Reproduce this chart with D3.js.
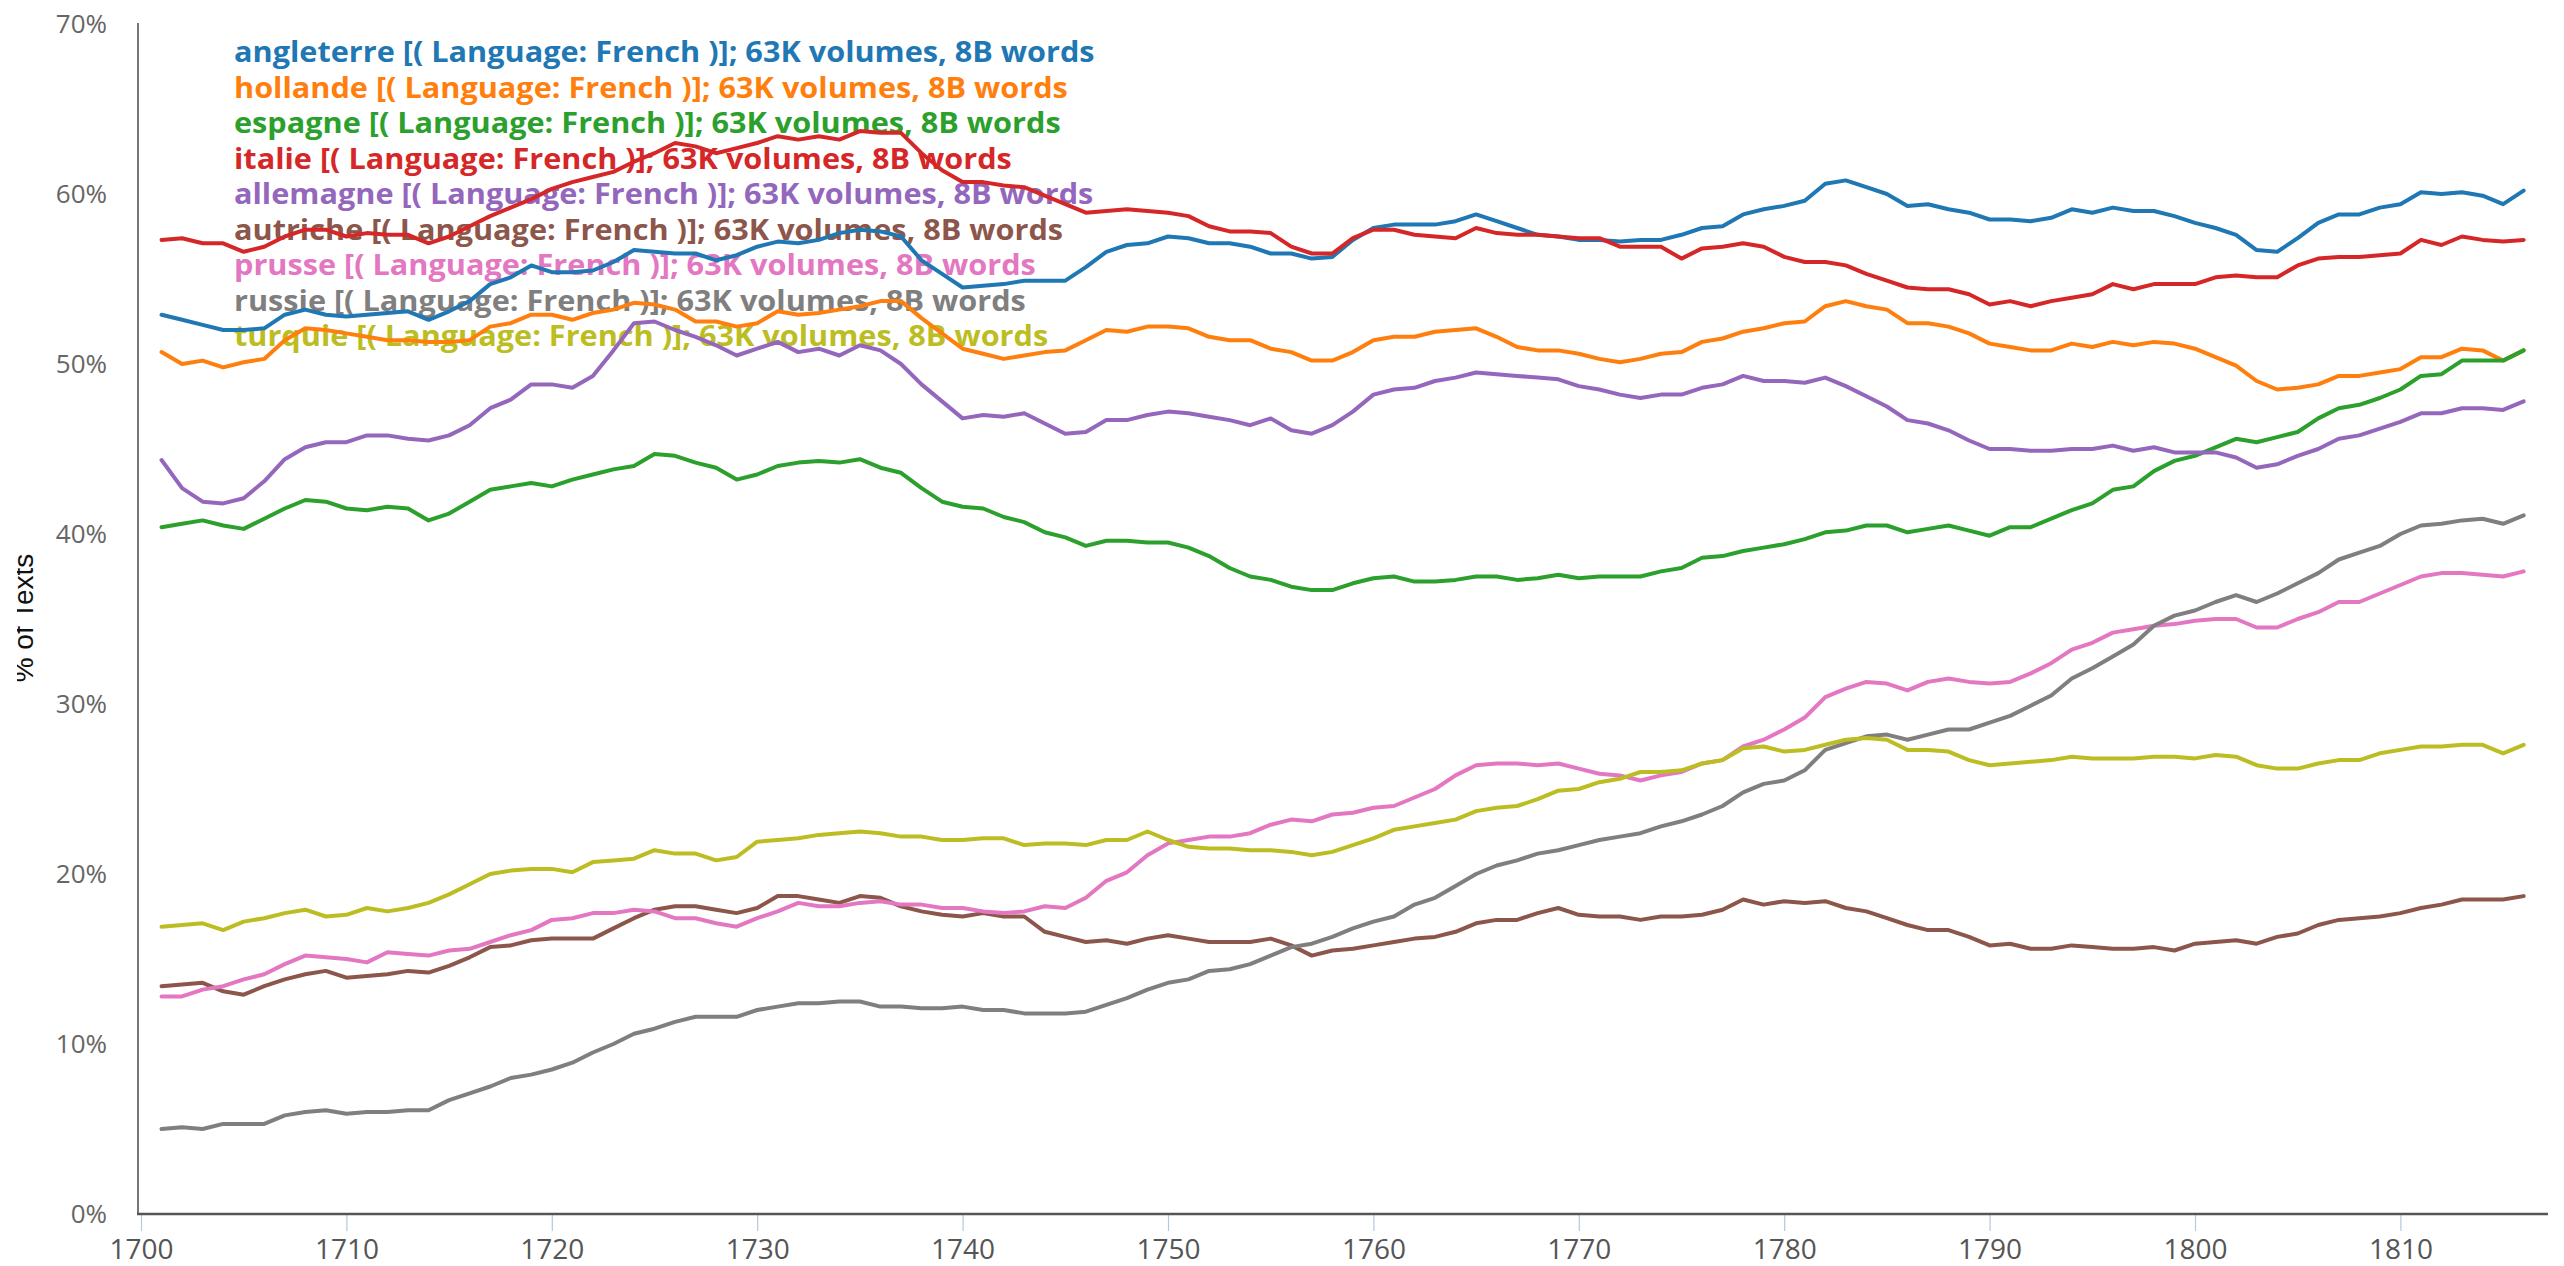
<!DOCTYPE html>
<html>
<head>
<meta charset="utf-8">
<script src="https://cdn.jsdelivr.net/npm/d3@7"></script>
<style>
  html, body { margin: 0; padding: 0; background: #fff; }
  svg { display: block; }
</style>
</head>
<body>
<svg id="chart" width="2564" height="1266"></svg>
<script>
// ---------------- DATA ----------------
const years = d3.range(1701, 1817);
const xTicks = [1700, 1710, 1720, 1730, 1740, 1750, 1760, 1770, 1780, 1790, 1800, 1810];
const yTicks = [0, 10, 20, 30, 40, 50, 60, 70];
const seriesNames = ["angleterre", "hollande", "espagne", "italie", "allemagne", "autriche", "prusse", "russie", "turquie"];
const legendSuffix = " [( Language: French )]; 63K volumes, 8B words";
const yTitle = "% of Texts";

const angleterre = [
  52.9, 52.6, 52.3, 52.0, 52.0, 52.1, 52.9, 53.2, 52.9, 52.8, 52.9, 53.0, 53.1, 52.6, 53.1, 53.7, 54.7, 55.1, 55.8, 55.4, 55.4, 55.5, 56.0, 56.7, 56.6, 56.5, 56.5, 56.1, 56.4, 56.9,
  57.2, 57.1, 57.3, 57.7, 57.9, 57.8, 57.5, 56.1, 55.3, 54.5, 54.6, 54.7, 54.9, 54.9, 54.9, 55.7, 56.6, 57.0, 57.1, 57.5, 57.4, 57.1, 57.1, 56.9, 56.5, 56.5, 56.2, 56.3, 57.3, 58.0,
  58.2, 58.2, 58.2, 58.4, 58.8, 58.4, 58.0, 57.6, 57.5, 57.3, 57.3, 57.2, 57.3, 57.3, 57.6, 58.0, 58.1, 58.8, 59.1, 59.3, 59.6, 60.6, 60.8, 60.4, 60.0, 59.3, 59.4, 59.1, 58.9, 58.5,
  58.5, 58.4, 58.6, 59.1, 58.9, 59.2, 59.0, 59.0, 58.7, 58.3, 58.0, 57.6, 56.7, 56.6, 57.4, 58.3, 58.8, 58.8, 59.2, 59.4, 60.1, 60.0, 60.1, 59.9, 59.4, 60.2
];
const hollande = [
  50.7, 50.0, 50.2, 49.8, 50.1, 50.3, 51.4, 52.1, 52.0, 51.8, 51.6, 51.4, 51.4, 51.3, 51.3, 51.4, 52.2, 52.4, 52.9, 52.9, 52.6, 53.0, 53.2, 53.6, 53.5, 53.2, 52.5, 52.5, 52.2, 52.4,
  53.1, 52.9, 53.0, 53.2, 53.4, 53.7, 53.7, 52.7, 51.8, 50.9, 50.6, 50.3, 50.5, 50.7, 50.8, 51.4, 52.0, 51.9, 52.2, 52.2, 52.1, 51.6, 51.4, 51.4, 50.9, 50.7, 50.2, 50.2, 50.7, 51.4,
  51.6, 51.6, 51.9, 52.0, 52.1, 51.6, 51.0, 50.8, 50.8, 50.6, 50.3, 50.1, 50.3, 50.6, 50.7, 51.3, 51.5, 51.9, 52.1, 52.4, 52.5, 53.4, 53.7, 53.4, 53.2, 52.4, 52.4, 52.2, 51.8, 51.2,
  51.0, 50.8, 50.8, 51.2, 51.0, 51.3, 51.1, 51.3, 51.2, 50.9, 50.4, 49.9, 49.0, 48.5, 48.6, 48.8, 49.3, 49.3, 49.5, 49.7, 50.4, 50.4, 50.9, 50.8, 50.2, 50.8
];
const espagne = [
  40.4, 40.6, 40.8, 40.5, 40.3, 40.9, 41.5, 42.0, 41.9, 41.5, 41.4, 41.6, 41.5, 40.8, 41.2, 41.9, 42.6, 42.8, 43.0, 42.8, 43.2, 43.5, 43.8, 44.0, 44.7, 44.6, 44.2, 43.9, 43.2, 43.5,
  44.0, 44.2, 44.3, 44.2, 44.4, 43.9, 43.6, 42.7, 41.9, 41.6, 41.5, 41.0, 40.7, 40.1, 39.8, 39.3, 39.6, 39.6, 39.5, 39.5, 39.2, 38.7, 38.0, 37.5, 37.3, 36.9, 36.7, 36.7, 37.1, 37.4,
  37.5, 37.2, 37.2, 37.3, 37.5, 37.5, 37.3, 37.4, 37.6, 37.4, 37.5, 37.5, 37.5, 37.8, 38.0, 38.6, 38.7, 39.0, 39.2, 39.4, 39.7, 40.1, 40.2, 40.5, 40.5, 40.1, 40.3, 40.5, 40.2, 39.9,
  40.4, 40.4, 40.9, 41.4, 41.8, 42.6, 42.8, 43.7, 44.3, 44.6, 45.1, 45.6, 45.4, 45.7, 46.0, 46.8, 47.4, 47.6, 48.0, 48.5, 49.3, 49.4, 50.2, 50.2, 50.2, 50.8
];
const italie = [
  57.3, 57.4, 57.1, 57.1, 56.6, 56.9, 57.5, 57.9, 57.9, 57.5, 57.7, 57.6, 57.6, 57.1, 57.5, 58.1, 58.7, 59.2, 59.7, 60.3, 60.7, 61.0, 61.3, 61.9, 62.4, 63.0, 62.8, 62.4, 62.7, 63.0,
  63.4, 63.2, 63.4, 63.2, 63.7, 63.6, 63.6, 62.4, 61.4, 60.7, 60.7, 60.5, 60.4, 59.9, 59.4, 58.9, 59.0, 59.1, 59.0, 58.9, 58.7, 58.1, 57.8, 57.8, 57.7, 56.9, 56.5, 56.5, 57.4, 57.9,
  57.9, 57.6, 57.5, 57.4, 58.0, 57.7, 57.6, 57.6, 57.5, 57.4, 57.4, 56.9, 56.9, 56.9, 56.2, 56.8, 56.9, 57.1, 56.9, 56.3, 56.0, 56.0, 55.8, 55.3, 54.9, 54.5, 54.4, 54.4, 54.1, 53.5,
  53.7, 53.4, 53.7, 53.9, 54.1, 54.7, 54.4, 54.7, 54.7, 54.7, 55.1, 55.2, 55.1, 55.1, 55.8, 56.2, 56.3, 56.3, 56.4, 56.5, 57.3, 57.0, 57.5, 57.3, 57.2, 57.3
];
const allemagne = [
  44.35, 42.7, 41.9, 41.8, 42.1, 43.1, 44.4, 45.1, 45.4, 45.4, 45.8, 45.8, 45.6, 45.5, 45.8, 46.4, 47.4, 47.9, 48.8, 48.8, 48.6, 49.3, 50.8, 52.4, 52.5, 52.0, 51.6, 51.1, 50.5, 50.9,
  51.3, 50.7, 50.9, 50.5, 51.1, 50.8, 50.0, 48.8, 47.8, 46.8, 47.0, 46.9, 47.1, 46.5, 45.9, 46.0, 46.7, 46.7, 47.0, 47.2, 47.1, 46.9, 46.7, 46.4, 46.8, 46.1, 45.9, 46.4, 47.2, 48.2,
  48.5, 48.6, 49.0, 49.2, 49.5, 49.4, 49.3, 49.2, 49.1, 48.7, 48.5, 48.2, 48.0, 48.2, 48.2, 48.6, 48.8, 49.3, 49.0, 49.0, 48.9, 49.2, 48.7, 48.1, 47.5, 46.7, 46.5, 46.1, 45.5, 45.0,
  45.0, 44.9, 44.9, 45.0, 45.0, 45.2, 44.9, 45.1, 44.8, 44.8, 44.8, 44.5, 43.9, 44.1, 44.6, 45.0, 45.6, 45.8, 46.2, 46.6, 47.1, 47.1, 47.4, 47.4, 47.3, 47.8
];
const autriche = [
  13.4, 13.5, 13.6, 13.1, 12.9, 13.4, 13.8, 14.1, 14.3, 13.9, 14.0, 14.1, 14.3, 14.2, 14.6, 15.1, 15.7, 15.8, 16.1, 16.2, 16.2, 16.2, 16.8, 17.4, 17.9, 18.1, 18.1, 17.9, 17.7, 18.0,
  18.7, 18.7, 18.5, 18.3, 18.7, 18.6, 18.1, 17.8, 17.6, 17.5, 17.7, 17.5, 17.5, 16.6, 16.3, 16.0, 16.1, 15.9, 16.2, 16.4, 16.2, 16.0, 16.0, 16.0, 16.2, 15.8, 15.2, 15.5, 15.6, 15.8,
  16.0, 16.2, 16.3, 16.6, 17.1, 17.3, 17.3, 17.7, 18.0, 17.6, 17.5, 17.5, 17.3, 17.5, 17.5, 17.6, 17.9, 18.5, 18.2, 18.4, 18.3, 18.4, 18.0, 17.8, 17.4, 17.0, 16.7, 16.7, 16.3, 15.8,
  15.9, 15.6, 15.6, 15.8, 15.7, 15.6, 15.6, 15.7, 15.5, 15.9, 16.0, 16.1, 15.9, 16.3, 16.5, 17.0, 17.3, 17.4, 17.5, 17.7, 18.0, 18.2, 18.5, 18.5, 18.5, 18.7
];
const prusse = [
  12.8, 12.8, 13.2, 13.4, 13.8, 14.1, 14.7, 15.2, 15.1, 15.0, 14.8, 15.4, 15.3, 15.2, 15.5, 15.6, 16.0, 16.4, 16.7, 17.3, 17.4, 17.7, 17.7, 17.9, 17.8, 17.4, 17.4, 17.1, 16.9, 17.4,
  17.8, 18.3, 18.1, 18.1, 18.3, 18.4, 18.2, 18.2, 18.0, 18.0, 17.8, 17.7, 17.8, 18.1, 18.0, 18.6, 19.6, 20.1, 21.1, 21.8, 22.0, 22.2, 22.2, 22.4, 22.9, 23.2, 23.1, 23.5, 23.6, 23.9,
  24.0, 24.5, 25.0, 25.8, 26.4, 26.5, 26.5, 26.4, 26.5, 26.2, 25.9, 25.8, 25.5, 25.8, 26.0, 26.5, 26.7, 27.5, 27.9, 28.5, 29.2, 30.4, 30.9, 31.3, 31.2, 30.8, 31.3, 31.5, 31.3, 31.2,
  31.3, 31.8, 32.4, 33.2, 33.6, 34.2, 34.4, 34.6, 34.7, 34.9, 35.0, 35.0, 34.5, 34.5, 35.0, 35.4, 36.0, 36.0, 36.5, 37.0, 37.5, 37.7, 37.7, 37.6, 37.5, 37.8
];
const russie = [
  5.0, 5.1, 5.0, 5.3, 5.3, 5.3, 5.8, 6.0, 6.1, 5.9, 6.0, 6.0, 6.1, 6.1, 6.7, 7.1, 7.5, 8.0, 8.2, 8.5, 8.9, 9.5, 10.0, 10.6, 10.9, 11.3, 11.6, 11.6, 11.6, 12.0,
  12.2, 12.4, 12.4, 12.5, 12.5, 12.2, 12.2, 12.1, 12.1, 12.2, 12.0, 12.0, 11.8, 11.8, 11.8, 11.9, 12.3, 12.7, 13.2, 13.6, 13.8, 14.3, 14.4, 14.7, 15.2, 15.7, 15.9, 16.3, 16.8, 17.2,
  17.5, 18.2, 18.6, 19.3, 20.0, 20.5, 20.8, 21.2, 21.4, 21.7, 22.0, 22.2, 22.4, 22.8, 23.1, 23.5, 24.0, 24.8, 25.3, 25.5, 26.1, 27.3, 27.7, 28.1, 28.2, 27.9, 28.2, 28.5, 28.5, 28.9,
  29.3, 29.9, 30.5, 31.5, 32.1, 32.8, 33.5, 34.6, 35.2, 35.5, 36.0, 36.4, 36.0, 36.5, 37.1, 37.7, 38.5, 38.9, 39.3, 40.0, 40.5, 40.6, 40.8, 40.9, 40.6, 41.1
];
const turquie = [
  16.9, 17.0, 17.1, 16.7, 17.2, 17.4, 17.7, 17.9, 17.5, 17.6, 18.0, 17.8, 18.0, 18.3, 18.8, 19.4, 20.0, 20.2, 20.3, 20.3, 20.1, 20.7, 20.8, 20.9, 21.4, 21.2, 21.2, 20.8, 21.0, 21.9,
  22.0, 22.1, 22.3, 22.4, 22.5, 22.4, 22.2, 22.2, 22.0, 22.0, 22.1, 22.1, 21.7, 21.8, 21.8, 21.7, 22.0, 22.0, 22.5, 22.0, 21.6, 21.5, 21.5, 21.4, 21.4, 21.3, 21.1, 21.3, 21.7, 22.1,
  22.6, 22.8, 23.0, 23.2, 23.7, 23.9, 24.0, 24.4, 24.9, 25.0, 25.4, 25.6, 26.0, 26.0, 26.1, 26.5, 26.7, 27.4, 27.5, 27.2, 27.3, 27.6, 27.9, 28.0, 27.9, 27.3, 27.3, 27.2, 26.7, 26.4,
  26.5, 26.6, 26.7, 26.9, 26.8, 26.8, 26.8, 26.9, 26.9, 26.8, 27.0, 26.9, 26.4, 26.2, 26.2, 26.5, 26.7, 26.7, 27.1, 27.3, 27.5, 27.5, 27.6, 27.6, 27.1, 27.6
];
const seriesValues = [angleterre, hollande, espagne, italie, allemagne, autriche, prusse, russie, turquie];
const colors = d3.schemeCategory10.slice(0, 9);

// ---------------- LAYOUT ----------------
const svg = d3.select("#chart");
const W = 2564, H = 1266;
const plotLeft = 141, plotBottom = 1214, plotTop = 24;
const pxPerYear = 20.54;
const x = d3.scaleLinear().domain([1700, 1816]).range([plotLeft, plotLeft + 116 * pxPerYear]);
const y = d3.scaleLinear().domain([0, 70]).range([plotBottom, plotTop]);

svg.append("rect").attr("width", W).attr("height", H).attr("fill", "#fff");

// y-axis title (clipped on the left edge as in the reference)
svg.append("defs").append("clipPath").attr("id", "titleClip")
  .append("rect").attr("x", 17).attr("y", 0).attr("width", 200).attr("height", H);
svg.append("g").attr("clip-path", "url(#titleClip)")
  .append("text")
  .attr("transform", "translate(33,618) rotate(-90)")
  .attr("text-anchor", "middle")
  .attr("font-family", "'Liberation Sans', Arial, sans-serif")
  .attr("font-size", 28)
  .attr("fill", "#111")
  .text(yTitle);

// y axis
const yAxis = d3.axisLeft(y).tickValues(yTicks).tickFormat(d => d + "%").tickSize(0).tickPadding(30);
const gy = svg.append("g").attr("transform", "translate(137,0)").call(yAxis);
gy.select(".domain").remove();
gy.selectAll("text")
  .attr("font-family", "'Open Sans', sans-serif")
  .attr("font-size", 26)
  .attr("fill", "#666");
svg.append("line")
  .attr("x1", 138).attr("x2", 138)
  .attr("y1", y(70) - 1).attr("y2", plotBottom)
  .attr("stroke", "#555").attr("stroke-width", 1.6);

// x axis
const xAxis = d3.axisBottom(x).tickValues(xTicks).tickFormat(d3.format("d")).tickSize(17).tickPadding(8);
const gx = svg.append("g").attr("transform", `translate(0,${plotBottom})`).call(xAxis);
gx.select(".domain").remove();
gx.selectAll(".tick line").attr("stroke", "#b6c8dc").attr("stroke-width", 1.2);
gx.selectAll("text")
  .attr("font-family", "'Open Sans', sans-serif")
  .attr("font-size", 28)
  .attr("fill", "#555");
svg.append("line")
  .attr("x1", 137).attr("x2", 2548)
  .attr("y1", plotBottom).attr("y2", plotBottom)
  .attr("stroke", "#555").attr("stroke-width", 2.4);

// legend (drawn under the lines)
const legend = svg.append("g");
const legendTexts = legend.selectAll("text")
  .data(seriesNames)
  .join("text")
  .attr("font-family", "'Open Sans', sans-serif")
  .attr("font-weight", 700)
  .attr("font-size", 29)
  .attr("fill", (d, i) => colors[i])
  .text(d => d + legendSuffix);
const firstW = legendTexts.node().getComputedTextLength();
const sx = firstW > 0 ? 861 / firstW : 1;
legendTexts.attr("transform", (d, i) => `translate(234,${62 + i * 35.5}) scale(${sx},1)`);

// lines
const line = d3.line().x((d, i) => x(years[i])).y(d => y(d));
svg.append("g").selectAll("path")
  .data(seriesValues)
  .join("path")
  .attr("d", line)
  .attr("fill", "none")
  .attr("stroke", (d, i) => colors[i])
  .attr("stroke-width", 4)
  .attr("stroke-linejoin", "round")
  .attr("stroke-linecap", "round");
</script>
</body>
</html>
